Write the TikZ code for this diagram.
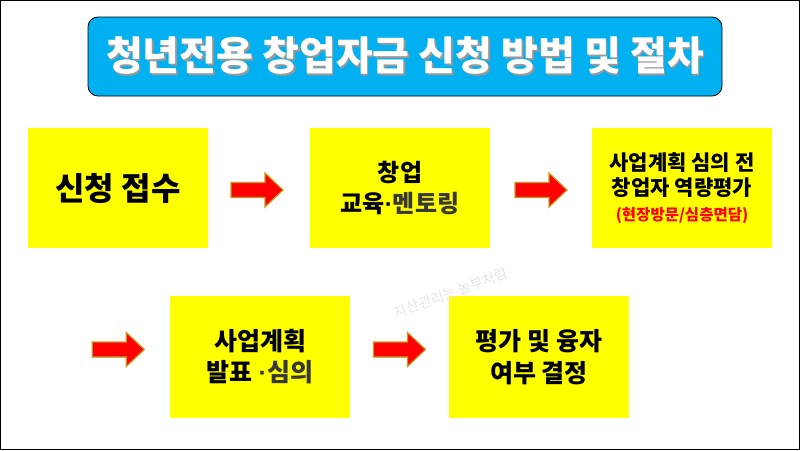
\documentclass[tikz,border=0pt]{standalone}
\usepackage{fontspec}
\setmainfont{Noto Sans CJK KR}
\newfontfamily\latinfont{Liberation Sans}
\usetikzlibrary{calc}
\definecolor{titleblue}{HTML}{00B0F0}
\definecolor{stepyellow}{HTML}{FFFF00}
\definecolor{arrowedge}{HTML}{C49A1A}
\definecolor{softblack}{HTML}{383838}
\definecolor{markgray}{HTML}{E4E4E4}
\newcommand{\middot}{{\latinfont\bfseries ·}}
\newcommand{\shadowed}[1]{\makebox[0pt][l]{\kern1.6pt\raisebox{-1.6pt}{\textcolor{black!40}{#1}}}#1}
\tikzset{
titlebox/.style={fill=titleblue, draw=black, line width=0.8pt, rounded corners=10pt,
  minimum width=634pt, minimum height=79pt, inner sep=0pt, text=white,
  font=\bfseries\fontsize{40}{44}\selectfont},
stepbox/.style={fill=stepyellow, minimum width=180pt, minimum height=120pt,
  inner sep=0pt, align=center, font=\bfseries\fontsize{24}{31}\selectfont},
blockarrow/.style={fill=red, draw=arrowedge, line width=1.2pt, line join=miter},
}
\begin{document}
\begin{tikzpicture}[x=1pt,y=-1pt]
\useasboundingbox (0,0) rectangle (800,450);
\draw[line width=1pt] (0.5,0.5) rectangle (799.5,449.5);

% title
\node[titlebox] (title) at (405,56.5) {\shadowed{청년전용 창업자금 신청 방법 및 절차}};

% steps
\node[stepbox, font=\bfseries\fontsize{32}{36}\selectfont] (b1) at (118,188) {신청 접수};
\node[stepbox] (b2) at (400,188) {창업\\교육\middot\textcolor{softblack}{멘토링}};
\node[stepbox, font=\bfseries\fontsize{21}{25}\selectfont] (b3) at (682,188)
  {사업계획 심의 전\\창업자 역량평가\\{\color{red}\fontsize{15.5}{19}\selectfont(현장방문/심층면담)}};
\node[stepbox, minimum height=122pt, font=\bfseries\fontsize{25}{31}\selectfont] (b4) at (260,357) {사업계획\\발표 \textcolor{softblack}{\middot 심의}};
\node[stepbox, minimum height=122pt, font=\bfseries\fontsize{25}{32}\selectfont] (b5) at (539,357) {평가 및 융자\\여부 결정};

% arrows
\foreach \from/\to/\dx/\dy in {b1/b2/-2/2, b2/b3/0/2, b4/b5/0/-7.5}
  \draw[blockarrow, shift={($(\from.east)!0.5!(\to.west)+(\dx,\dy)$)}]
    (-26,-7.5) -- (8,-7.5) -- (8,-17) -- (26,0) -- (8,17) -- (8,7.5) -- (-26,7.5) -- cycle;
\draw[blockarrow, shift={($(b4.west)+(-51.5,-7.5)$)}]
  (-26,-7.5) -- (8,-7.5) -- (8,-17) -- (26,0) -- (8,17) -- (8,7.5) -- (-26,7.5) -- cycle;

% watermark
\node[rotate=20, text=markgray, font=\fontsize{14}{14}\selectfont] (mark) at (451,293) {자산관리는 놀부처럼};

\end{tikzpicture}
\end{document}
